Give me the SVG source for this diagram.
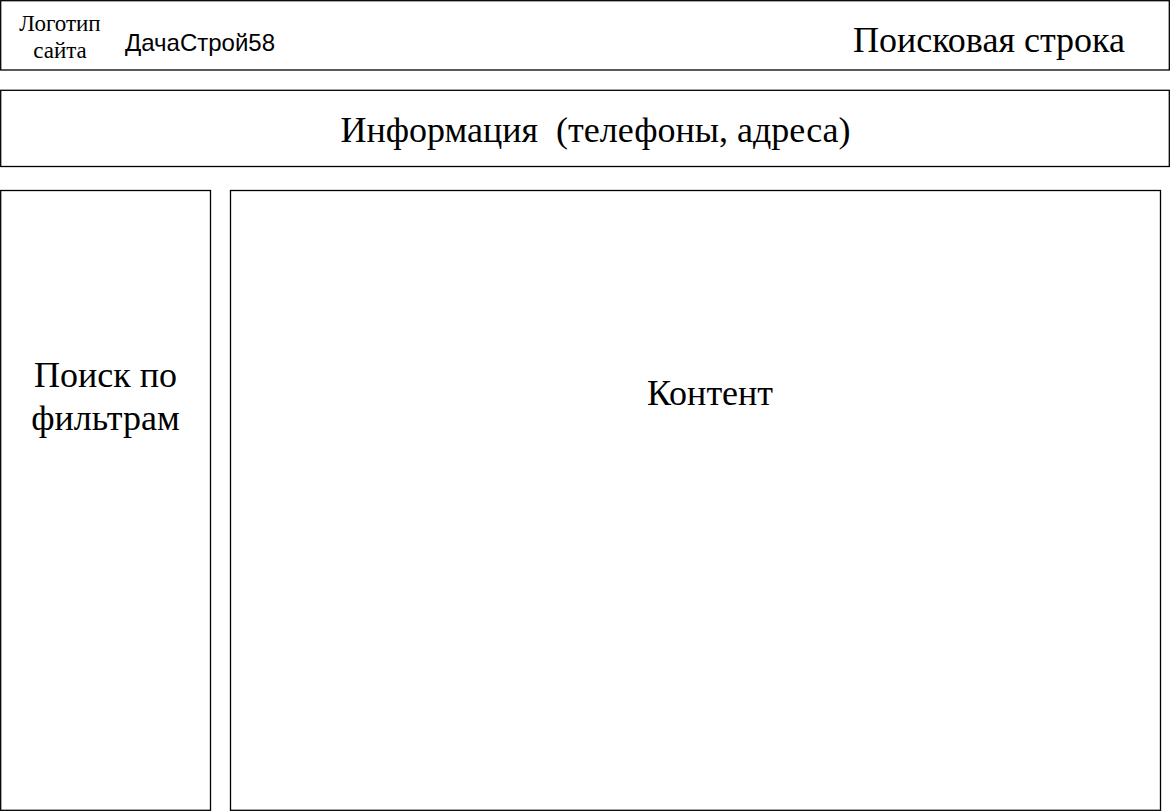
<svg xmlns="http://www.w3.org/2000/svg" width="1170" height="811" viewBox="0 0 1170 811">
  <style>
    .box { fill: #ffffff; stroke: #000000; stroke-width: 1.3; }
    .serif { font-family: "Liberation Serif", "Times New Roman", serif; fill: #000000; }
    .sans { font-family: "Liberation Sans", Arial, sans-serif; fill: #000000; }
    .big { font-size: 36px; }
  </style>
  <rect width="1170" height="811" fill="#ffffff"/>

  <!-- Header bar: logo, site name, search -->
  <g id="header">
    <rect class="box" x="0.7" y="0.7" width="1168.6" height="69.3"/>
    <text class="serif" font-size="23" text-anchor="middle" x="60" y="31">Логотип</text>
    <text class="serif" font-size="23" text-anchor="middle" x="60" y="58">сайта</text>
    <text class="sans" font-size="24" x="125" y="51">ДачаСтрой58</text>
    <text class="serif big" text-anchor="middle" x="989" y="52">Поисковая строка</text>
  </g>

  <!-- Contact info strip -->
  <g id="info">
    <rect class="box" x="0.7" y="90.3" width="1168.6" height="76.2"/>
    <text class="serif big" text-anchor="middle" x="595.5" y="142" xml:space="preserve">Информация  (телефоны, адреса)</text>
  </g>

  <!-- Filter sidebar -->
  <g id="filters">
    <rect class="box" x="0.7" y="190.5" width="209.8" height="619.8"/>
    <text class="serif big" text-anchor="middle" x="105.5" y="387">Поиск по</text>
    <text class="serif big" text-anchor="middle" x="105.5" y="430">фильтрам</text>
  </g>

  <!-- Main content area -->
  <g id="content">
    <rect class="box" x="230.5" y="190.5" width="930" height="619.8"/>
    <text class="serif big" text-anchor="middle" x="710" y="405">Контент</text>
  </g>

  <g id="connectors"/>
</svg>
